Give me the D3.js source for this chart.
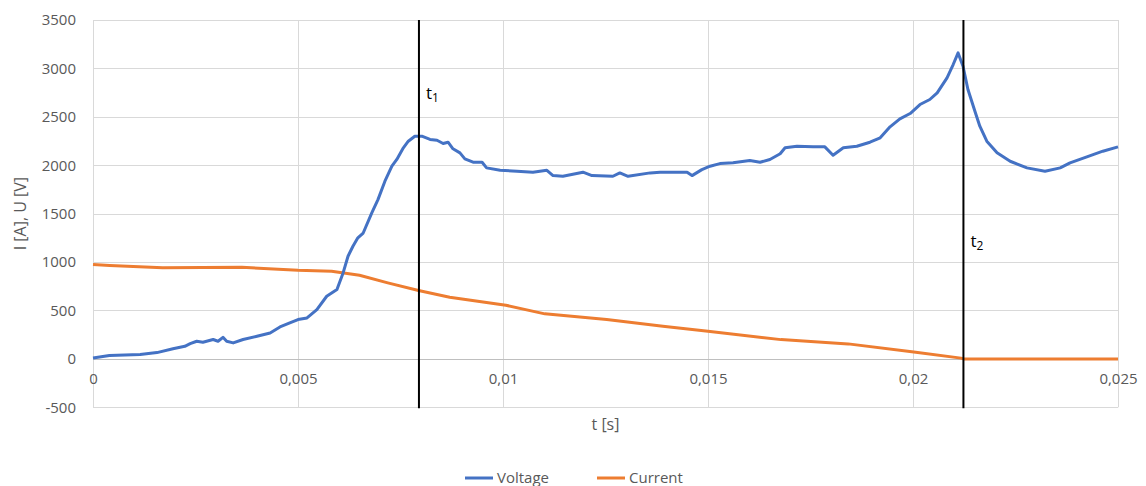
<!DOCTYPE html>
<html><head><meta charset="utf-8">
<script src="https://cdn.jsdelivr.net/npm/d3@7"></script>
<style>body{margin:0;background:#fff}svg{display:block}text{font-family:"Open Sans",sans-serif}</style>
</head><body><svg id="c" width="1146" height="486"></svg>
<script>
const voltageT = [0,0.0004,0.00115,0.00156,0.00195,0.00224,0.00237,0.00253,0.00268,0.00293,0.00305,0.00317,0.00326,0.00342,0.00366,0.004,0.00432,0.00456,0.0048,0.005,0.00522,0.00546,0.0057,0.00595,0.0061,0.00622,0.00634,0.00646,0.00659,0.0068,0.00695,0.00712,0.00729,0.00741,0.00757,0.00769,0.00785,0.00802,0.00822,0.00839,0.00854,0.00866,0.00878,0.00895,0.00907,0.00927,0.00949,0.0096,0.00993,0.01034,0.01073,0.01107,0.01122,0.01146,0.01195,0.01217,0.01268,0.01285,0.01305,0.01359,0.01383,0.01424,0.01449,0.01461,0.01485,0.01505,0.01529,0.01561,0.01602,0.01627,0.01651,0.01676,0.01688,0.01717,0.01756,0.01785,0.01805,0.0183,0.01863,0.01895,0.0192,0.01944,0.01968,0.01993,0.02017,0.02041,0.02059,0.02083,0.02098,0.0211,0.02122,0.02134,0.02151,0.02163,0.0218,0.02205,0.02237,0.02278,0.02322,0.02359,0.02383,0.02424,0.02463,0.025];
const voltageV = [10,35,45,65,105,130,158,182,172,200,182,223,182,165,200,234,268,330,372,406,423,509,647,716,888,1060,1163,1250,1300,1508,1645,1835,1990,2060,2180,2248,2300,2300,2266,2258,2224,2238,2170,2128,2066,2031,2031,1973,1948,1938,1928,1948,1893,1886,1928,1893,1886,1921,1886,1921,1928,1928,1928,1893,1955,1990,2017,2025,2048,2031,2059,2118,2180,2196,2190,2190,2103,2180,2196,2238,2283,2397,2479,2534,2627,2679,2748,2903,3040,3160,3023,2782,2558,2403,2248,2128,2041,1973,1938,1973,2025,2087,2145,2190];
const currentT = [0,0.00041,0.0017,0.00363,0.005,0.00582,0.0065,0.00719,0.00794,0.0087,0.01007,0.01102,0.01253,0.0139,0.015,0.01678,0.01842,0.02002,0.02117,0.02123,0.025];
const currentV = [974,964,940,946,915,905,864,785,706,636,554,465,406,337,285,199,155,72,8,0,0];
const markerT = [0.00795,0.02123];
const markerLabels = ["1","2"];
const yTicks = [-500,0,500,1000,1500,2000,2500,3000,3500];
const xTicks = [0,0.005,0.01,0.015,0.02,0.025];
const xTickLabels = ["0","0,005","0,01","0,015","0,02","0,025"];
const seriesNames = ["Voltage","Current"];
const seriesColors = ["#4472C4","#ED7D31"];

const svg = d3.select("#c");
const L=93,R=1118,T=20,B=407.3;
const x = d3.scaleLinear().domain([0,0.025]).range([L,R]);
const y = d3.scaleLinear().domain([-500,3500]).range([B,T]);

const g = svg.append("g");
// grid
g.selectAll(".hg").data(yTicks).join("line")
 .attr("x1",L).attr("x2",R).attr("y1",d=>Math.round(y(d))+0.5).attr("y2",d=>Math.round(y(d))+0.5)
 .attr("stroke","#d9d9d9").attr("stroke-width",1);
g.selectAll(".vg").data(xTicks).join("line")
 .attr("y1",T).attr("y2",B).attr("x1",d=>Math.round(x(d))+0.5).attr("x2",d=>Math.round(x(d))+0.5)
 .attr("stroke","#d9d9d9").attr("stroke-width",1);
// zero axis line
g.append("line").attr("x1",L).attr("x2",R).attr("y1",Math.round(y(0))+0.5).attr("y2",Math.round(y(0))+0.5)
 .attr("stroke","#bfbfbf").attr("stroke-width",1);

// y axis labels
const yAxis = d3.axisLeft(y).tickValues(yTicks).tickSize(0).tickPadding(17).tickFormat(d=>String(d));
svg.append("g").attr("transform",`translate(${L},0)`).call(yAxis)
 .call(s=>s.select(".domain").remove())
 .call(s=>s.selectAll("text").attr("fill","#595959").style("font-size","15px").style("font-family","'Open Sans',sans-serif"));
// x axis labels at y=0
const xAxis = d3.axisBottom(x).tickValues(xTicks).tickSize(0).tickPadding(14).tickFormat((d,i)=>xTickLabels[i]);
svg.append("g").attr("transform",`translate(0,${y(0)})`).call(xAxis)
 .call(s=>s.select(".domain").remove())
 .call(s=>s.selectAll("text").attr("fill","#595959").style("font-size","15px").style("font-family","'Open Sans',sans-serif"));

// series
const line = d3.line().x(d=>x(d[0])).y(d=>y(d[1]));
const cur = currentT.map((t,i)=>[t,currentV[i]]);
const vol = voltageT.map((t,i)=>[t,voltageV[i]]);
svg.append("path").datum(cur).attr("d",line).attr("fill","none").attr("stroke",seriesColors[1]).attr("stroke-width",3).attr("stroke-linejoin","round");
svg.append("path").datum(vol).attr("d",line).attr("fill","none").attr("stroke",seriesColors[0]).attr("stroke-width",3).attr("stroke-linejoin","round");

// markers
svg.selectAll(".mk").data(markerT).join("line")
 .attr("x1",d=>x(d)).attr("x2",d=>x(d)).attr("y1",T).attr("y2",B+1)
 .attr("stroke","#000").attr("stroke-width",2);
const labY=[99,247];
markerT.forEach((t,i)=>{
  const tx = svg.append("text").attr("x",x(t)+7).attr("y",labY[i]).attr("fill","#000").style("font-size","17px").style("font-family","'Liberation Serif','DejaVu Serif',serif");
  tx.append("tspan").text("t").style("font-family","'Open Sans',sans-serif");
  tx.append("tspan").attr("dy",3).style("font-size","12px").style("font-family","'Open Sans',sans-serif").text(markerLabels[i]);
});

// axis titles
svg.append("text").attr("transform",`translate(26,${(T+B)/2}) rotate(-90)`).attr("text-anchor","middle")
 .attr("fill","#595959").style("font-size","16px").text("I [A], U [V]");
svg.append("text").attr("x",(L+R)/2).attr("y",430).attr("text-anchor","middle")
 .attr("fill","#595959").style("font-size","16px").text("t [s]");

// legend
const lg = svg.append("g");
const lx=[465,597];
seriesNames.forEach((n,i)=>{
  lg.append("line").attr("x1",lx[i]).attr("x2",lx[i]+28).attr("y1",478).attr("y2",478).attr("stroke",seriesColors[i]).attr("stroke-width",3);
  lg.append("text").attr("x",lx[i]+32).attr("y",483).attr("fill","#595959").style("font-size","15px").text(n);
});
</script></body></html>
